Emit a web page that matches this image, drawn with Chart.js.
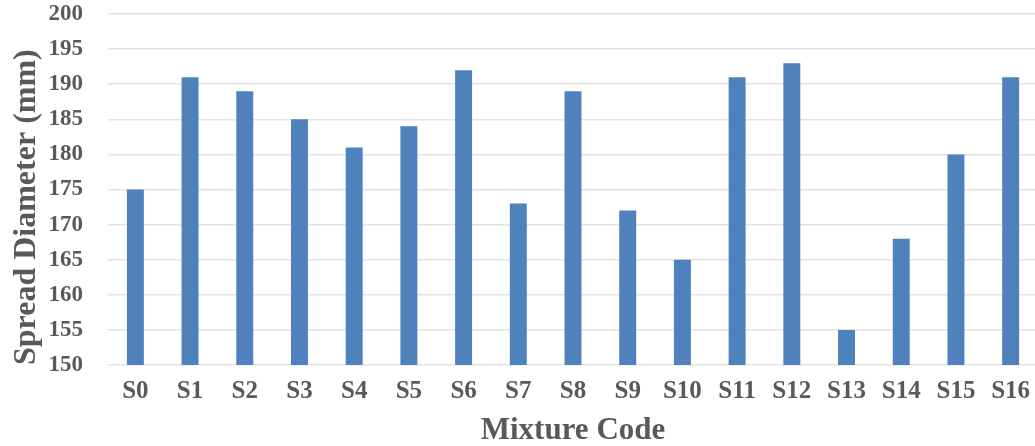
<!DOCTYPE html>
<html>
<head>
<meta charset="utf-8">
<script src="https://cdn.jsdelivr.net/npm/chart.js@4.4.0/dist/chart.umd.min.js"></script>
<style>
  html, body { margin: 0; padding: 0; background: #fff; overflow: hidden; }
  #wrap { width: 1038px; height: 446px; }
</style>
</head>
<body>
<div id="wrap"><canvas id="spreadChart"></canvas></div>
<script>
// Mixture codes and measured spread diameters
const mixtureCodes = ["S0", "S1", "S2", "S3", "S4", "S5", "S6", "S7", "S8",
  "S9", "S10", "S11", "S12", "S13", "S14", "S15", "S16"];
const spreadDiameter = [175, 191, 189, 185, 181, 184, 192, 173, 189,
  172, 165, 191, 193, 155, 168, 180, 191];
const yMin = 150;
const yMax = 200;
const yStep = 5;

const serif = "'Liberation Serif', 'Times New Roman', serif";
const textGray = "#595959";

const ctx = document.getElementById("spreadChart").getContext("2d");
new Chart(ctx, {
  type: "bar",
  data: {
    labels: mixtureCodes,
    datasets: [
      {
        label: "Spread Diameter (mm)",
        data: spreadDiameter,
        backgroundColor: "#4f81bd",
        borderWidth: 0,
        barPercentage: 0.62,
        categoryPercentage: 0.5,
      },
    ],
  },
  options: {
    responsive: true,
    maintainAspectRatio: false,
    animation: false,
    layout: { padding: { top: 3, right: 0, bottom: 0, left: 0 } },
    plugins: {
      legend: { display: false },
      tooltip: { enabled: false },
    },
    scales: {
      x: {
        grid: { display: false, drawTicks: false },
        border: { display: false },
        ticks: {
          color: textGray,
          font: { family: serif, size: 25, weight: "bold", lineHeight: 1.2 },
          padding: 12,
          maxRotation: 0,
        },
        title: {
          display: true,
          text: "Mixture Code",
          color: textGray,
          font: { family: serif, size: 31, weight: "bold", lineHeight: 1.0 },
          padding: { top: 0, bottom: 0 },
        },
        afterFit(scale) {
          scale.height = 81;
          scale.paddingLeft = 0;
          scale.paddingRight = 0;
        },
      },
      y: {
        min: yMin,
        max: yMax,
        grid: { color: "#e3e3e3", lineWidth: 1.5, drawTicks: false },
        border: { display: false },
        ticks: {
          stepSize: yStep,
          color: textGray,
          font: { family: serif, size: 23, weight: "bold" },
          padding: 25,
        },
        title: {
          display: true,
          align: "start",
          text: "Spread Diameter (mm)",
          color: textGray,
          font: { family: serif, size: 32, weight: "bold", lineHeight: 1.2 },
          padding: { top: 8, bottom: 0 },
        },
        afterFit(scale) {
          scale.width = 108;
          scale.paddingTop = 14;
          scale.paddingBottom = 14;
        },
      },
    },
  },
});
</script>
</body>
</html>
